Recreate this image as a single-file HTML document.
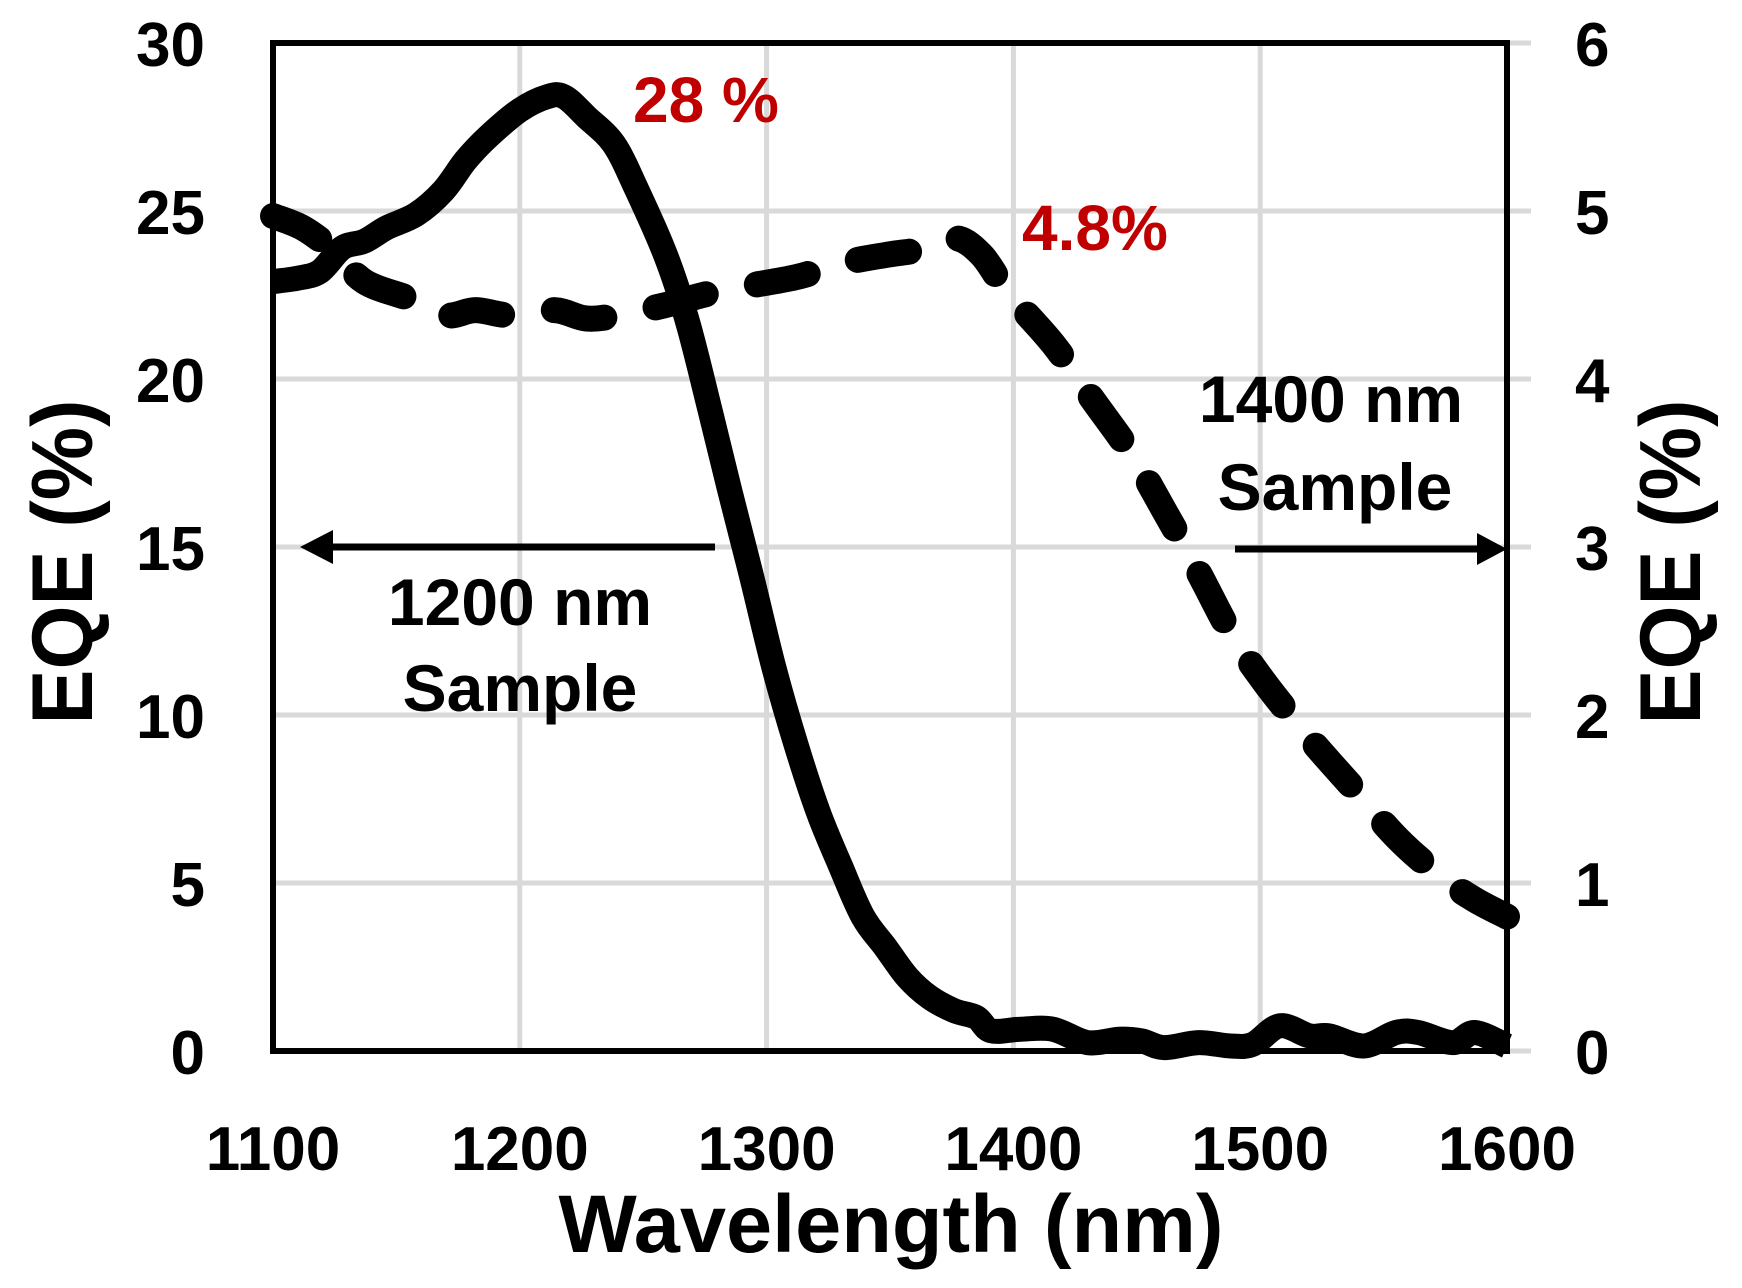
<!DOCTYPE html>
<html><head><meta charset="utf-8"><style>
html,body{margin:0;padding:0;background:#fff}
svg{display:block}
text{font-family:"Liberation Sans",sans-serif;font-weight:bold}
</style></head><body>
<svg id="chart" width="1742" height="1288" viewBox="0 0 1742 1288" xmlns="http://www.w3.org/2000/svg">
<g id="grid"></g>
<g id="series"></g>
<rect x="273" y="43" width="1234" height="1008" fill="none" stroke="#000" stroke-width="6"/>
<g id="labels"></g>
<text x="891" y="1252" font-size="82" text-anchor="middle" textLength="665" lengthAdjust="spacingAndGlyphs">Wavelength (nm)</text>
<text transform="translate(92,562) rotate(-90)" font-size="86" text-anchor="middle" textLength="325" lengthAdjust="spacingAndGlyphs">EQE (%)</text>
<text transform="translate(1700,562) rotate(-90)" font-size="86" text-anchor="middle" textLength="325" lengthAdjust="spacingAndGlyphs">EQE (%)</text>
<text x="633" y="122" font-size="64" fill="#c00000">28 %</text>
<text x="1022" y="250" font-size="64" fill="#c00000">4.8%</text>
<text x="520" y="625" font-size="66" text-anchor="middle">1200 nm</text>
<text x="520" y="711" font-size="66" text-anchor="middle">Sample</text>
<text x="1331" y="422" font-size="66" text-anchor="middle">1400 nm</text>
<text x="1335" y="510" font-size="66" text-anchor="middle">Sample</text>
<g>
<line x1="715" y1="547" x2="325" y2="547" stroke="#000" stroke-width="7"/>
<polygon points="300,547 333,530 333,564" fill="#000"/>
</g>
<g>
<line x1="1235" y1="549" x2="1480" y2="549" stroke="#000" stroke-width="7"/>
<polygon points="1507,549 1477,533 1477,565" fill="#000"/>
</g>
</svg>
<script>
const xTicks=[1100,1200,1300,1400,1500,1600];
const yLeftTicks=[0,5,10,15,20,25,30];
const yRightTicks=[0,1,2,3,4,5,6];
const solidX=[1100,1110,1119,1128,1137,1146,1158,1169,1178,1187,1200,1211,1218,1227,1238,1247,1259,1268,1277,1285,1294,1303,1312,1321,1330,1339,1348,1357,1366,1376,1385,1391,1403,1416,1430,1443,1452,1461,1475,1488,1497,1508,1520,1528,1542,1555,1564,1578,1587,1600];
const solidY=[22.9,23.0,23.2,23.9,24.1,24.5,24.9,25.6,26.5,27.2,28.0,28.4,28.4,27.8,27.0,25.7,23.7,21.7,19.1,16.7,14.1,11.4,9.1,7.1,5.5,4.0,3.1,2.2,1.6,1.2,1.0,0.6,0.65,0.65,0.25,0.35,0.3,0.1,0.25,0.15,0.2,0.75,0.45,0.45,0.15,0.55,0.55,0.25,0.55,0.15];
const dashX=[1100,1112,1124,1137,1155,1170,1182,1196,1214,1227,1240,1259,1277,1295,1313,1331,1349,1362,1376,1387,1398,1416,1432,1448,1461,1475,1488,1502,1520,1538,1556,1574,1587,1600];
const dashY=[4.97,4.9,4.77,4.58,4.48,4.38,4.41,4.38,4.41,4.36,4.38,4.44,4.51,4.56,4.61,4.69,4.74,4.77,4.84,4.74,4.51,4.21,3.88,3.55,3.22,2.85,2.49,2.19,1.86,1.56,1.26,1.03,0.90,0.80];

const L=273,R=1507,T=43,B=1051;
const xs=v=>L+(v-1100)/500*(R-L);
const yl=v=>B-v/30*(B-T);
const yr=v=>B-v/6*(B-T);
const NS='http://www.w3.org/2000/svg';
function mk(tag,attrs,parent){const e=document.createElementNS(NS,tag);for(const k in attrs)e.setAttribute(k,attrs[k]);parent.appendChild(e);return e;}
const grid=document.getElementById('grid'),labels=document.getElementById('labels'),series=document.getElementById('series');
xTicks.forEach(t=>{
  const g=mk('line',{x1:xs(t),x2:xs(t),y1:T,y2:B,stroke:'#d9d9d9','stroke-width':5},grid);
  
  
  const tx=mk('text',{x:xs(t),y:1170,'font-size':62,'text-anchor':'middle'},labels);
  tx.textContent=t;
  
  
});
yLeftTicks.forEach(t=>{
  const g=mk('line',{x1:L,x2:R+24,y1:yl(t),y2:yl(t),stroke:'#d9d9d9','stroke-width':5},grid);
  
  
  const tx=mk('text',{x:205,y:yl(t)+23,'font-size':62,'text-anchor':'end'},labels);
  tx.textContent=t;
  
  
});
yRightTicks.forEach(t=>{
  const tx=mk('text',{x:1575,y:yr(t)+23,'font-size':62,'text-anchor':'start'},labels);
  tx.textContent=t;
  
  
});
function pathD(X,Y,sy){
  const P=X.map((x,i)=>[xs(x),sy(Y[i])]);
  let d='M'+P[0][0].toFixed(1)+','+P[0][1].toFixed(1);
  for(let i=0;i<P.length-1;i++){
    const p0=P[Math.max(0,i-1)],p1=P[i],p2=P[i+1],p3=P[Math.min(P.length-1,i+2)];
    const c1=[p1[0]+(p2[0]-p0[0])/6,p1[1]+(p2[1]-p0[1])/6];
    const c2=[p2[0]-(p3[0]-p1[0])/6,p2[1]-(p3[1]-p1[1])/6];
    d+=' C'+c1[0].toFixed(1)+','+c1[1].toFixed(1)+' '+c2[0].toFixed(1)+','+c2[1].toFixed(1)+' '+p2[0].toFixed(1)+','+p2[1].toFixed(1);
  }
  return d;
}
const sp=mk('path',{d:pathD(solidX,solidY,yl),fill:'none',stroke:'#000','stroke-width':25,'stroke-linejoin':'round','stroke-linecap':'butt'},series);


const dp=mk('path',{d:pathD(dashX,dashY,yr),fill:'none',stroke:'#000','stroke-width':26,'stroke-linejoin':'round','stroke-linecap':'round','stroke-dasharray':'52 52'},series);


</script>
</body></html>
